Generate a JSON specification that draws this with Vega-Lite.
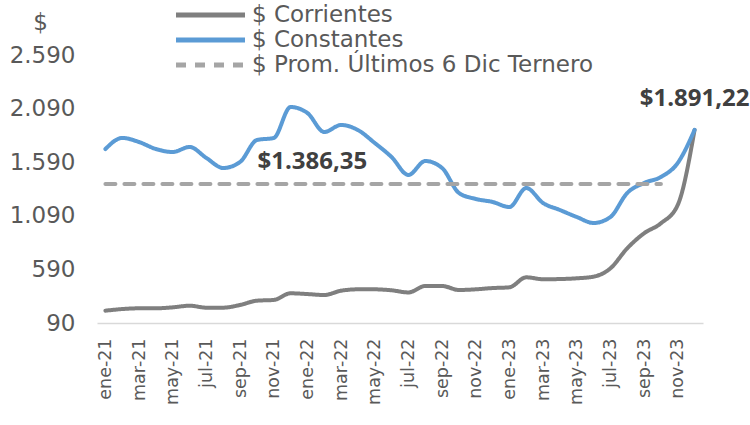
{
  "$schema": "https://vega.github.io/schema/vega-lite/v6.json",
  "width": 606,
  "height": 268,
  "autosize": {"type": "none"},
  "padding": {"left": 97, "top": 55, "right": 47, "bottom": 102},
  "config": {"view": {"stroke": null}, "font": "DejaVu Sans"},
  "datasets": {
    "serie": [
      {"mes": "ene-21", "corr": 205, "cons": 1713, "prom": 1386.35},
      {"mes": "feb-21", "corr": 220, "cons": 1816, "prom": 1386.35},
      {"mes": "mar-21", "corr": 227, "cons": 1778, "prom": 1386.35},
      {"mes": "abr-21", "corr": 227, "cons": 1713, "prom": 1386.35},
      {"mes": "may-21", "corr": 236, "cons": 1685, "prom": 1386.35},
      {"mes": "jun-21", "corr": 251, "cons": 1732, "prom": 1386.35},
      {"mes": "jul-21", "corr": 233, "cons": 1629, "prom": 1386.35},
      {"mes": "ago-21", "corr": 233, "cons": 1536, "prom": 1386.35},
      {"mes": "sep-21", "corr": 258, "cons": 1592, "prom": 1386.35},
      {"mes": "oct-21", "corr": 298, "cons": 1797, "prom": 1386.35},
      {"mes": "nov-21", "corr": 305, "cons": 1816, "prom": 1386.35},
      {"mes": "dic-21", "corr": 367, "cons": 2105, "prom": 1386.35},
      {"mes": "ene-22", "corr": 360, "cons": 2049, "prom": 1386.35},
      {"mes": "feb-22", "corr": 351, "cons": 1872, "prom": 1386.35},
      {"mes": "mar-22", "corr": 391, "cons": 1937, "prom": 1386.35},
      {"mes": "abr-22", "corr": 404, "cons": 1890, "prom": 1386.35},
      {"mes": "may-22", "corr": 404, "cons": 1769, "prom": 1386.35},
      {"mes": "jun-22", "corr": 395, "cons": 1638, "prom": 1386.35},
      {"mes": "jul-22", "corr": 375, "cons": 1471, "prom": 1386.35},
      {"mes": "ago-22", "corr": 435, "cons": 1601, "prom": 1386.35},
      {"mes": "sep-22", "corr": 435, "cons": 1536, "prom": 1386.35},
      {"mes": "oct-22", "corr": 398, "cons": 1303, "prom": 1386.35},
      {"mes": "nov-22", "corr": 404, "cons": 1247, "prom": 1386.35},
      {"mes": "dic-22", "corr": 416, "cons": 1219, "prom": 1386.35},
      {"mes": "ene-23", "corr": 423, "cons": 1172, "prom": 1386.35},
      {"mes": "feb-23", "corr": 516, "cons": 1349, "prom": 1386.35},
      {"mes": "mar-23", "corr": 498, "cons": 1209, "prom": 1386.35},
      {"mes": "abr-23", "corr": 500, "cons": 1144, "prom": 1386.35},
      {"mes": "may-23", "corr": 507, "cons": 1079, "prom": 1386.35},
      {"mes": "jun-23", "corr": 522, "cons": 1023, "prom": 1386.35},
      {"mes": "jul-23", "corr": 600, "cons": 1079, "prom": 1386.35},
      {"mes": "ago-23", "corr": 787, "cons": 1303, "prom": 1386.35},
      {"mes": "sep-23", "corr": 927, "cons": 1396, "prom": 1386.35},
      {"mes": "oct-23", "corr": 1020, "cons": 1452, "prom": 1386.35},
      {"mes": "nov-23", "corr": 1191, "cons": 1583, "prom": null},
      {"mes": "dic-23", "corr": 1891.22, "cons": 1891.22, "prom": null}
    ]
  },
  "layer": [
    {
      "data": {"name": "serie"},
      "transform": [
        {"fold": ["corr", "cons", "prom"], "as": ["serie", "valor"]},
        {"filter": "isValid(datum.valor)"}
      ],
      "mark": {"type": "line", "interpolate": "monotone", "strokeWidth": 4, "strokeCap": "round"},
      "encoding": {
        "x": {
          "field": "mes",
          "type": "ordinal",
          "sort": null,
          "scale": {
            "type": "point",
            "padding": 0.5,
            "domain": ["ene-21","feb-21","mar-21","abr-21","may-21","jun-21","jul-21","ago-21","sep-21","oct-21","nov-21","dic-21","ene-22","feb-22","mar-22","abr-22","may-22","jun-22","jul-22","ago-22","sep-22","oct-22","nov-22","dic-22","ene-23","feb-23","mar-23","abr-23","may-23","jun-23","jul-23","ago-23","sep-23","oct-23","nov-23","dic-23"]
          },
          "axis": {
            "title": null,
            "values": ["ene-21","mar-21","may-21","jul-21","sep-21","nov-21","ene-22","mar-22","may-22","jul-22","sep-22","nov-22","ene-23","mar-23","may-23","jul-23","sep-23","nov-23"],
            "labelAngle": -90,
            "labelAlign": "right",
            "labelBaseline": "middle",
            "labelFontSize": 17.5,
            "labelColor": "#595959",
            "labelPadding": 15,
            "ticks": false,
            "grid": false,
            "domainColor": "#D9D9D9",
            "domainWidth": 1.5
          }
        },
        "y": {
          "field": "valor",
          "type": "quantitative",
          "scale": {"domain": [90, 2590], "nice": false, "zero": false},
          "axis": {
            "title": "$",
            "titleAngle": 0,
            "titleX": -57,
            "titleY": -33,
            "titleAlign": "center",
            "titleBaseline": "middle",
            "titleFontSize": 23,
            "titleFontWeight": "normal",
            "titleColor": "#595959",
            "values": [90, 590, 1090, 1590, 2090, 2590],
            "labelExpr": "replace(format(datum.value, ','), ',', '.')",
            "labelFontSize": 23,
            "labelColor": "#595959",
            "labelPadding": 22,
            "domain": false,
            "ticks": false,
            "grid": false
          }
        },
        "color": {
          "field": "serie",
          "type": "nominal",
          "scale": {"domain": ["corr", "cons", "prom"], "range": ["#7F7F7F", "#5B9BD5", "#A5A5A5"]},
          "legend": {
            "title": null,
            "orient": "none",
            "legendX": 102,
            "legendY": -51.5,
            "symbolType": "M-4.3125,0H4.3125",
            "symbolSize": 256,
            "symbolStrokeWidth": 5,
            "labelFontSize": 23,
            "labelColor": "#595959",
            "labelLimit": 600,
            "labelOffset": 30,
            "rowPadding": 1,
            "padding": 0,
            "labelExpr": "datum.label == 'corr' ? '$ Corrientes' : datum.label == 'cons' ? '$ Constantes' : '$ Prom. Últimos 6 Dic Ternero'"
          }
        },
        "strokeDash": {
          "field": "serie",
          "type": "nominal",
          "scale": {"domain": ["corr", "cons", "prom"], "range": [[1, 0], [1, 0], [10, 9]]},
          "legend": {
            "title": null,
            "orient": "none",
            "legendX": 102,
            "legendY": -51.5,
            "symbolType": "M-4.3125,0H4.3125",
            "symbolSize": 256,
            "symbolStrokeWidth": 5,
            "labelFontSize": 23,
            "labelColor": "#595959",
            "labelLimit": 600,
            "labelOffset": 30,
            "rowPadding": 1,
            "padding": 0,
            "labelExpr": "datum.label == 'corr' ? '$ Corrientes' : datum.label == 'cons' ? '$ Constantes' : '$ Prom. Últimos 6 Dic Ternero'"
          }
        }
      }
    },
    {
      "data": {"values": [{"mes": "ene-22", "valor": 1386.35, "etiqueta": "$1.386,35"}]},
      "mark": {"type": "text", "font": "Open Sans", "fontSize": 24, "fontWeight": "bold", "color": "#404040", "dx": 5, "dy": -22},
      "encoding": {
        "x": {"field": "mes", "type": "ordinal", "sort": null},
        "y": {"field": "valor", "type": "quantitative"},
        "text": {"field": "etiqueta"}
      }
    },
    {
      "data": {"values": [{"mes": "dic-23", "valor": 1891.22, "etiqueta": "$1.891,22"}]},
      "mark": {"type": "text", "font": "Open Sans", "fontSize": 24, "fontWeight": "bold", "color": "#404040", "dx": 0, "dy": -31},
      "encoding": {
        "x": {"field": "mes", "type": "ordinal", "sort": null},
        "y": {"field": "valor", "type": "quantitative"},
        "text": {"field": "etiqueta"}
      }
    }
  ]
}
